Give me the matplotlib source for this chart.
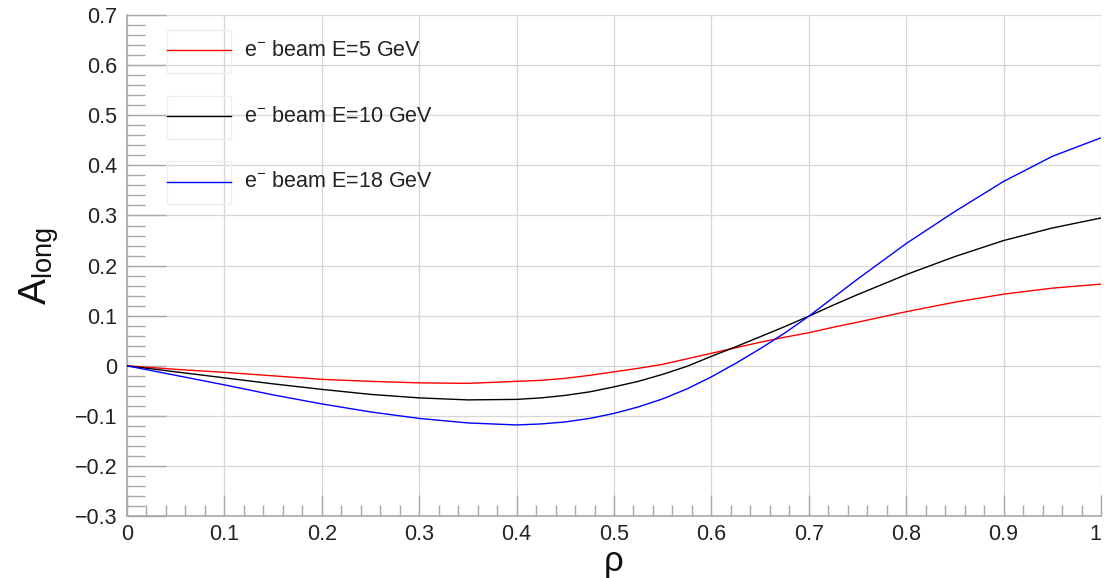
import matplotlib
matplotlib.use("Agg")
import matplotlib.pyplot as plt
from matplotlib.lines import Line2D
from matplotlib.patches import Rectangle
from matplotlib.ticker import MultipleLocator, FuncFormatter
from matplotlib.transforms import offset_copy

plt.rcParams["font.family"] = ["Liberation Sans", "DejaVu Sans"]
plt.rcParams["mathtext.fontset"] = "custom"
plt.rcParams["mathtext.rm"] = "Liberation Sans"
plt.rcParams["mathtext.it"] = "Liberation Sans:italic"

rho = [0.000, 0.050, 0.100, 0.150, 0.200, 0.250, 0.300, 0.350, 0.400,
       0.425, 0.450, 0.475, 0.500, 0.525, 0.550, 0.575, 0.600, 0.625,
       0.650, 0.675, 0.700, 0.725, 0.750, 0.800, 0.850, 0.900, 0.950, 1.000]

a_long_5gev = [0.000, -0.007, -0.013, -0.020, -0.027, -0.031, -0.034, -0.035,
               -0.031, -0.029, -0.025, -0.019, -0.012, -0.005, 0.003, 0.014,
               0.025, 0.036, 0.047, 0.057, 0.066, 0.077, 0.087,
               0.108, 0.127, 0.143, 0.155, 0.163]
a_long_10gev = [0.000, -0.012, -0.024, -0.036, -0.047, -0.057, -0.064, -0.068,
                -0.067, -0.064, -0.059, -0.052, -0.042, -0.031, -0.017, -0.001,
                0.019, 0.038, 0.058, 0.078, 0.099, 0.121, 0.142,
                0.182, 0.218, 0.250, 0.275, 0.295]
a_long_18gev = [0.000, -0.019, -0.038, -0.058, -0.076, -0.092, -0.105, -0.114,
                -0.118, -0.116, -0.112, -0.105, -0.095, -0.082, -0.066, -0.046,
                -0.022, 0.005, 0.034, 0.065, 0.099, 0.136, 0.173,
                0.244, 0.308, 0.368, 0.418, 0.455]

series = [
    (a_long_5gev, "#ff0000", "e$^{-}$ beam E=5 GeV"),
    (a_long_10gev, "#000000", "e$^{-}$ beam E=10 GeV"),
    (a_long_18gev, "#0000ff", "e$^{-}$ beam E=18 GeV"),
]

fig = plt.figure(figsize=(11.04, 5.78), dpi=100)
ax = fig.add_axes([0.115, 0.107, 0.8823, 0.867])

axis_gray = "#a8a8a8"
label_color = "#222222"
tick_size = 15.5
tick_pad = 6

for y, color, label in series:
    ax.plot(rho, y, color=color, lw=1.0, zorder=3)

ax.set_xlim(0, 1)
ax.set_ylim(-0.3, 0.7)
ax.xaxis.set_major_locator(MultipleLocator(0.1))
ax.xaxis.set_minor_locator(MultipleLocator(0.02))
ax.yaxis.set_major_locator(MultipleLocator(0.1))
ax.yaxis.set_minor_locator(MultipleLocator(0.02))


def x_label(v, pos):
    # the label at the right end is drawn separately, right-aligned
    if abs(v - 1.0) < 1e-9:
        return ""
    return "%g" % round(v, 2)


ax.xaxis.set_major_formatter(FuncFormatter(x_label))
ax.yaxis.set_major_formatter(FuncFormatter(
    lambda v, p: ("%g" % round(v, 2)).replace("-", "\u2212")))

ax.grid(True, which="major", color="#d6d6d6", lw=0.9, zorder=0)
ax.set_axisbelow(True)
for side in ("top", "right"):
    ax.spines[side].set_visible(False)
for side in ("left", "bottom"):
    ax.spines[side].set_color(axis_gray)
    ax.spines[side].set_linewidth(1.2)

ax.tick_params(axis="y", which="major", direction="in", length=28,
               width=1.0, color=axis_gray, labelsize=tick_size,
               labelcolor=label_color, pad=7)
ax.tick_params(axis="y", which="minor", direction="in", length=13,
               width=1.0, color=axis_gray)
ax.tick_params(axis="x", which="major", direction="in", length=15,
               width=1.0, color=axis_gray, labelsize=tick_size,
               labelcolor=label_color, pad=tick_pad)
ax.tick_params(axis="x", which="minor", direction="in", length=8,
               width=1.0, color=axis_gray)

ax.text(1.0, 0.0, "1",
        transform=offset_copy(ax.get_xaxis_transform(), fig=fig,
                              y=-tick_pad, units="points"),
        ha="right", va="top", fontsize=tick_size, color=label_color,
        clip_on=False)

ax.set_xlabel("\u03c1", fontsize=25, color="#111111")
ax.xaxis.set_label_coords(0.5, -0.058)
ax.set_ylabel(r"$\mathrm{A_{long}}$", fontsize=28, color="#111111")
ax.yaxis.set_label_coords(-0.068, 0.5)

# legend: framed line sample followed by its label, one row per beam energy
row_y = [0.930, 0.798, 0.667]
for (y, color, label), ry in zip(series, row_y):
    ax.add_patch(Rectangle((0.041, ry - 0.045), 0.066, 0.086,
                           transform=ax.transAxes, fill=False,
                           edgecolor="#efefef", lw=1.0, zorder=1))
    ax.add_line(Line2D([0.041, 0.1067], [ry, ry], transform=ax.transAxes,
                       color=color, lw=1.0, zorder=4))
    ax.text(0.120, ry, label, transform=ax.transAxes, fontsize=15.5,
            color=label_color, va="center", ha="left", zorder=4)

fig.savefig("out.png", dpi=100, facecolor="white")
